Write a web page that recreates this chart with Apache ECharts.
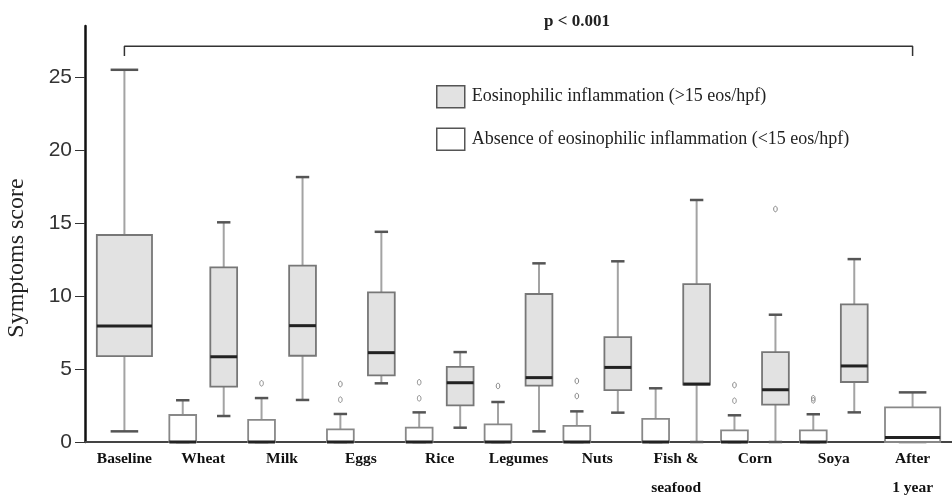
<!DOCTYPE html>
<html>
<head>
<meta charset="utf-8">
<script src="https://cdn.jsdelivr.net/npm/echarts@6/dist/echarts.min.js"></script>
<style>
  html, body { margin: 0; padding: 0; background: #fff; }
  #chart { width: 952px; height: 495px; }
</style>
</head>
<body>
<div id="chart"></div>
<script>
const categories = ['Baseline', 'Wheat', 'Milk', 'Eggs', 'Rice', 'Legumes', 'Nuts', 'Fish &\nseafood', 'Corn', 'Soya', 'After\n1 year']

// [min, q1, median, q3, max] per category, null where no box
const grayBox = [
  [0.73, 5.89, 7.95, 14.18, 25.5],
  [1.78, 3.79, 5.84, 11.96, 15.05],
  [2.88, 5.91, 7.97, 12.08, 18.15],
  [4.02, 4.57, 6.12, 10.25, 14.4],
  [0.98, 2.51, 4.06, 5.14, 6.16],
  [0.73, 3.86, 4.41, 10.14, 12.24],
  [2.01, 3.56, 5.11, 7.19, 12.38],
  [0, 3.93, 3.97, 10.82, 16.58],
  [0, 2.56, 3.58, 6.16, 8.72],
  [2.03, 4.11, 5.21, 9.43, 12.53],
  null
]
const whiteBox = [
  null,
  [0, 0, 0, 1.85, 2.86],
  [0, 0, 0, 1.51, 3.01],
  [0, 0, 0, 0.87, 1.92],
  [0, 0, 0, 0.98, 2.03],
  [0, 0, 0, 1.21, 2.74],
  [0, 0, 0, 1.1, 2.1],
  [0, 0, 0, 1.58, 3.68],
  [0, 0, 0, 0.8, 1.83],
  [0, 0, 0, 0.8, 1.9],
  [0, 0, 0.3, 2.37, 3.4]
]
// [category index, value]
const whiteOutliers = [[2, 4.02], [3, 2.9], [3, 3.97], [4, 2.99], [4, 4.09], [5, 3.84], [6, 3.15], [6, 4.18], [8, 2.83], [8, 3.9], [9, 2.85], [9, 3.0]]
const grayOutliers = [[8, 15.96]]
const yTicks = [0, 5, 10, 15, 20, 25]
const bracketLow = 26.44
const bracketHigh = 27.12

const grayName = 'Eosinophilic inflammation (>15 eos/hpf)'
const whiteName = 'Absence of eosinophilic inflammation (<15 eos/hpf)'
const serif = '"Liberation Serif", "DejaVu Serif", serif'

function boxCenter(api, i, side, other) {
  const band = api.size([1, 0])[0]
  const solo = other[i] == null
  const cx = api.coord([i, 0])[0] + (solo ? 0 : side * band * 0.26)
  const w = band * (solo ? 0.7 : 0.34)
  return { cx, w }
}

function makeBoxRenderer(side, other, fill, border) {
  return function (params, api) {
    const i = api.value(0)
    const { cx, w } = boxCenter(api, i, side, other)
    const y = v => api.coord([i, v])[1]
    const yMin = y(api.value(1))
    const yQ1 = y(api.value(2))
    const yMed = y(api.value(3))
    const yQ3 = y(api.value(4))
    const yMax = y(api.value(5))
    const cap = w / 2
    const children = [
      { type: 'line', shape: { x1: cx, y1: yQ3, x2: cx, y2: yMax }, style: { stroke: '#a3a3a3', lineWidth: 2 } },
      { type: 'line', shape: { x1: cx, y1: yQ1, x2: cx, y2: yMin }, style: { stroke: '#a3a3a3', lineWidth: 2 } },
      { type: 'line', shape: { x1: cx - cap / 2, y1: yMax, x2: cx + cap / 2, y2: yMax }, style: { stroke: '#555', lineWidth: 2.5 } },
      { type: 'line', shape: { x1: cx - cap / 2, y1: yMin, x2: cx + cap / 2, y2: yMin }, style: { stroke: '#555', lineWidth: 2.5 } },
      { type: 'rect', shape: { x: cx - w / 2, y: yQ3, width: w, height: yQ1 - yQ3 }, style: { fill: fill, stroke: border, lineWidth: 1.8 } },
      { type: 'line', shape: { x1: cx - w / 2, y1: yMed, x2: cx + w / 2, y2: yMed }, style: { stroke: '#222', lineWidth: 3 } }
    ]
    return { type: 'group', children }
  }
}

function makeOutlierRenderer(side, other) {
  return function (params, api) {
    const i = api.value(0)
    const { cx } = boxCenter(api, i, side, other)
    const cy = api.coord([i, api.value(1)])[1]
    return {
      type: 'ellipse',
      shape: { cx, cy, rx: 1.8, ry: 2.8 },
      style: { fill: 'none', stroke: '#888', lineWidth: 1 }
    }
  }
}

function toRows(stats) {
  return stats.map((s, i) => (s ? [i].concat(s) : null)).filter(Boolean)
}

const chart = echarts.init(document.getElementById('chart'))
const option = {
  animation: false,
  title: {
    text: 'p < 0.001',
    left: 539,
    top: 8,
    textStyle: { fontFamily: serif, fontSize: 17, fontWeight: 'bold', color: '#222' }
  },
  legend: {
    orient: 'vertical',
    left: 431,
    top: 80,
    itemWidth: 28,
    itemHeight: 22,
    itemGap: 19,
    textStyle: { fontFamily: serif, fontSize: 18, color: '#222', padding: [0, 0, 0, 2] },
    data: [
      { name: grayName, icon: 'rect', itemStyle: { color: '#e2e2e2', borderColor: '#555', borderWidth: 1.5 } },
      { name: whiteName, icon: 'rect', itemStyle: { color: '#fff', borderColor: '#555', borderWidth: 1.5 } }
    ]
  },
  grid: {
    left: 85,
    right: 0,
    top: 26,
    bottom: 53,
    outerBoundsMode: 'none'
  },
  xAxis: {
    type: 'category',
    data: categories,
    boundaryGap: true,
    axisLine: { lineStyle: { color: '#444', width: 2 } },
    axisTick: { inside: true, length: 18, interval: 0, lineStyle: { color: '#333', width: 2 } },
    axisLabel: {
      interval: 0,
      margin: 2,
      fontFamily: serif,
      fontSize: 15.5,
      fontWeight: 'bold',
      color: '#111',
      lineHeight: 29
    }
  },
  yAxis: {
    type: 'value',
    min: 0,
    max: 28.5,
    interval: 5,
    name: 'Symptoms score',
    nameLocation: 'middle',
    nameGap: 56,
    nameTextStyle: { fontFamily: serif, fontSize: 24, color: '#222', padding: [0, 48, 0, 0] },
    axisLine: { show: true, lineStyle: { color: '#111', width: 2.5 } },
    axisTick: { show: true, length: 10, customValues: yTicks, lineStyle: { color: '#333', width: 1 } },
    axisLabel: {
      margin: 13,
      fontFamily: '"Liberation Sans", Arial, sans-serif',
      fontSize: 21,
      color: '#333',
      customValues: yTicks
    },
    splitLine: { show: false }
  },
  series: [
    {
      name: grayName,
      type: 'custom',
      renderItem: makeBoxRenderer(1, whiteBox, '#e2e2e2', '#777'),
      data: toRows(grayBox),
      z: 3
    },
    {
      name: whiteName,
      type: 'custom',
      renderItem: makeBoxRenderer(-1, grayBox, '#fff', '#888'),
      data: toRows(whiteBox),
      z: 3
    },
    {
      type: 'custom',
      renderItem: makeOutlierRenderer(-1, grayBox),
      data: whiteOutliers,
      z: 3
    },
    {
      type: 'custom',
      renderItem: makeOutlierRenderer(1, whiteBox),
      data: grayOutliers,
      z: 3
    },
    {
      type: 'line',
      data: [[0, bracketLow], [0, bracketHigh], [categories.length - 1, bracketHigh], [categories.length - 1, bracketLow]],
      symbol: 'none',
      lineStyle: { color: '#333', width: 1.5 },
      z: 2
    }
  ]
}
chart.setOption(option)
</script>
</body>
</html>
